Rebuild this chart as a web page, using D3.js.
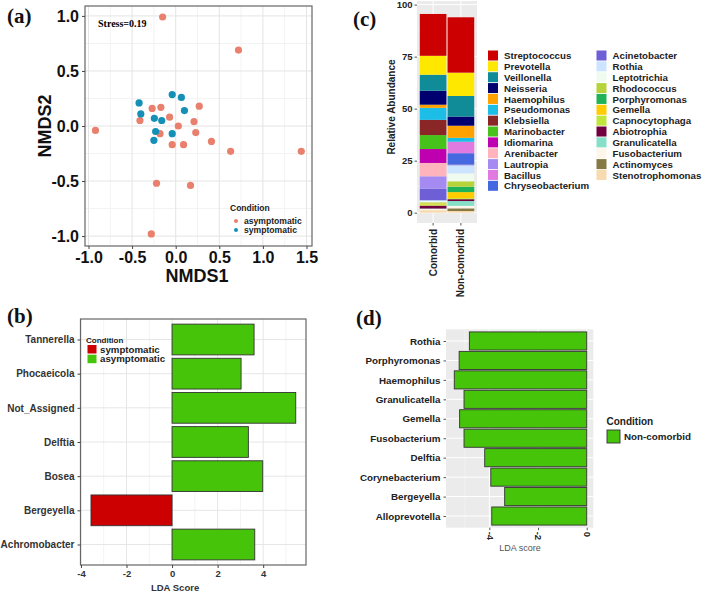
<!DOCTYPE html>
<html>
<head>
<meta charset="utf-8">
<script src="https://cdn.jsdelivr.net/npm/d3@7/dist/d3.min.js"></script>
<style>
  body { margin: 0; background: #fff; }
  svg { display: block; font-family: "Liberation Sans", Arial, sans-serif; }
  .serif { font-family: "Liberation Serif", "Times New Roman", serif; font-weight: bold; }
</style>
</head>
<body>
<svg id="fig" width="706" height="593"></svg>
<script>
// ---- data: panel (a) NMDS ----
const asymX = [-0.15, 0.72, -0.92, -0.41, -0.27, -0.17, -0.07, 0.03, -0.18, -0.04, 0.09, 0.21, 0.23, 0.27, 0.41, 0.63, 1.44, -0.22, 0.17, -0.28]
const asymY = [0.99, 0.69, -0.04, 0.05, 0.16, 0.17, 0.08, 0.0, -0.07, -0.17, -0.17, 0.04, -0.06, 0.18, -0.14, -0.23, -0.23, -0.52, -0.54, -0.98]
const sympX = [-0.42, -0.40, -0.04, 0.065, 0.10, -0.245, -0.16, -0.23, -0.25, -0.04]
const sympY = [0.21, 0.11, 0.285, 0.26, 0.14, 0.07, 0.05, -0.05, -0.13, -0.07]

// ---- data: panel (b) LEfSe ----
const bTaxa = ['Tannerella', 'Phocaeicola', 'Not_Assigned', 'Delftia', 'Bosea', 'Bergeyella', 'Achromobacter']
const bScores = [3.6, 3.03, 5.43, 3.35, 3.98, -3.56, 3.63]
const bGroup = ['asymptomatic', 'asymptomatic', 'asymptomatic', 'asymptomatic', 'asymptomatic', 'symptomatic', 'asymptomatic']

// ---- data: panel (c) relative abundance ----
const genera = ['Streptococcus', 'Prevotella', 'Veillonella', 'Neisseria', 'Haemophilus', 'Pseudomonas', 'Klebsiella',
  'Marinobacter', 'Idiomarina', 'Arenibacter', 'Lautropia', 'Bacillus', 'Chryseobacterium', 'Acinetobacter', 'Rothia',
  'Leptotrichia', 'Rhodococcus', 'Porphyromonas', 'Gemella', 'Capnocytophaga', 'Abiotrophia', 'Granulicatella',
  'Fusobacterium', 'Actinomyces', 'Stenotrophomonas']
const generaColors = ['#cc0000', '#ffe800', '#108c98', '#00006e', '#ffa200', '#1cbde6', '#8b2626',
  '#46c21a', '#bf00b0', '#ffb3bd', '#a58af2', '#e07ae0', '#4568e0', '#6e5fd6', '#cce4ff',
  '#effbee', '#b6d33a', '#1fb257', '#ffcc00', '#c0e63a', '#720040', '#86e0c8',
  '#fff6ea', '#857946', '#f8dab0']
const groupsC = ['Comorbid', 'Non-comorbid']
const comorbidVals = [20.1, 9.1, 7.7, 6.7, 1.5, 5.8, 7.3, 6.7, 6.7, 6.4, 5.9, 0, 0, 5.6, 0.4, 0.6, 0.6, 0, 0.4, 0.6, 1.4, 0.2, 0.6, 0, 1.2]
const noncomorbidVals = [26.6, 11.2, 9.9, 4.4, 5.8, 1.9, 0, 0, 0, 0, 0, 5.5, 5.4, 0.4, 3.9, 3.8, 2.6, 2.6, 2.9, 0.5, 0.9, 2.3, 1.2, 1.3, 0.8]

// ---- data: panel (d) LEfSe ----
const dTaxa = ['Rothia', 'Porphyromonas', 'Haemophilus', 'Granulicatella', 'Gemella', 'Fusobacterium', 'Delftia', 'Corynebacterium', 'Bergeyella', 'Alloprevotella']
const dScores = [-4.82, -5.24, -5.44, -5.04, -5.22, -5.04, -4.19, -3.94, -3.37, -3.9]

const svg = d3.select('#fig')
svg.append('rect').attr('width', 706).attr('height', 593).attr('fill', '#fff')

const tag = (x, y, s) => svg.append('text').attr('class', 'serif').attr('x', x).attr('y', y)
  .attr('font-size', 21).attr('fill', '#111').text(s)

// ================= (a) =================
const drawA = () => {
  const g = svg.append('g')
  const x = d3.scaleLinear().domain([-1.04, 1.563]).range([85, 312])
  const y = d3.scaleLinear().domain([-1.09, 1.09]).range([246, 6])
  const xMaj = [-1, -0.5, 0, 0.5, 1, 1.5]
  const yMaj = [-1, -0.5, 0, 0.5, 1]
  const xMin = [-0.75, -0.25, 0.25, 0.75, 1.25]
  const yMin = [-0.75, -0.25, 0.25, 0.75]
  g.append('rect').attr('x', 85).attr('y', 6).attr('width', 227).attr('height', 240).attr('fill', '#fff')
  g.selectAll('.mnx').data(xMin).enter().append('line')
    .attr('x1', d => x(d)).attr('x2', d => x(d)).attr('y1', 6).attr('y2', 246).attr('stroke', '#f3f3f3')
  g.selectAll('.mny').data(yMin).enter().append('line')
    .attr('y1', d => y(d)).attr('y2', d => y(d)).attr('x1', 85).attr('x2', 312).attr('stroke', '#f3f3f3')
  g.selectAll('.mjx').data(xMaj).enter().append('line')
    .attr('x1', d => x(d)).attr('x2', d => x(d)).attr('y1', 6).attr('y2', 246).attr('stroke', '#e4e4e4')
  g.selectAll('.mjy').data(yMaj).enter().append('line')
    .attr('y1', d => y(d)).attr('y2', d => y(d)).attr('x1', 85).attr('x2', 312).attr('stroke', '#e4e4e4')

  const asym = asymX.map((v, i) => [v, asymY[i]])
  const symp = sympX.map((v, i) => [v, sympY[i]])
  g.selectAll('.pa').data(asym).enter().append('circle')
    .attr('cx', d => x(d[0])).attr('cy', d => y(d[1])).attr('r', 3.6).attr('fill', '#e8806d')
  g.selectAll('.ps').data(symp).enter().append('circle')
    .attr('cx', d => x(d[0])).attr('cy', d => y(d[1])).attr('r', 3.6).attr('fill', '#1490b6')

  g.append('rect').attr('x', 85).attr('y', 6).attr('width', 227).attr('height', 240)
    .attr('fill', 'none').attr('stroke', '#666').attr('stroke-width', 1.2)

  const fmt = d => d.toFixed(1)
  const ax = g.append('g').attr('transform', 'translate(0,246)')
    .call(d3.axisBottom(x).tickValues(xMaj).tickFormat(fmt).tickSize(3).tickPadding(3))
  const ay = g.append('g').attr('transform', 'translate(85,0)')
    .call(d3.axisLeft(y).tickValues(yMaj).tickFormat(fmt).tickSize(3).tickPadding(3))
  for (const a of [ax, ay]) {
    a.select('.domain').remove()
    a.selectAll('line').attr('stroke', '#444')
    a.selectAll('text').attr('font-size', 16).attr('font-weight', 'bold').attr('fill', '#111')
      .attr('font-family', '"Liberation Sans", Arial, sans-serif')
  }
  g.append('text').attr('x', 197).attr('y', 282).attr('text-anchor', 'middle')
    .attr('font-size', 18).attr('font-weight', 'bold').attr('fill', '#111').text('NMDS1')
  g.append('text').attr('transform', 'translate(51,126) rotate(-90)').attr('text-anchor', 'middle')
    .attr('font-size', 18).attr('font-weight', 'bold').attr('fill', '#111').text('NMDS2')
  g.append('text').attr('class', 'serif').attr('x', 98).attr('y', 27).attr('font-size', 10).text('Stress=0.19')

  // legend
  g.append('text').attr('x', 230).attr('y', 211).attr('font-size', 8.5).attr('font-weight', 'bold').attr('fill', '#222').text('Condition')
  const lg = [['asymptomatic', '#e8806d'], ['symptomatic', '#1490b6']]
  lg.forEach((d, i) => {
    g.append('circle').attr('cx', 236).attr('cy', 221 + i * 9).attr('r', 2).attr('fill', d[1])
    g.append('text').attr('x', 244).attr('y', 224 + i * 9).attr('font-size', 8.6).attr('font-weight', 'bold').attr('fill', '#222').text(d[0])
  })
  tag(7, 23, '(a)')
}

// ================= (b) =================
const drawB = () => {
  const g = svg.append('g')
  const x = d3.scaleLinear().domain([-4.02, 5.88]).range([80.5, 306])
  const y = d3.scalePoint().domain(bTaxa).range([319, 565]).padding(0.6)
  const bh = y.step() * 0.9
  const top = 319, bot = 565, left = 80.5, right = 306
  g.append('rect').attr('x', left).attr('y', top).attr('width', right - left).attr('height', bot - top).attr('fill', '#fff')
  g.selectAll('.mn').data([-3, -1, 1, 3, 5]).enter().append('line')
    .attr('x1', d => x(d)).attr('x2', d => x(d)).attr('y1', top).attr('y2', bot).attr('stroke', '#f3f3f3')
  g.selectAll('.mj').data([-4, -2, 0, 2, 4]).enter().append('line')
    .attr('x1', d => x(d)).attr('x2', d => x(d)).attr('y1', top).attr('y2', bot).attr('stroke', '#e6e6e6')
  g.selectAll('.hy').data(bTaxa).enter().append('line')
    .attr('y1', d => y(d)).attr('y2', d => y(d)).attr('x1', left).attr('x2', right).attr('stroke', '#e6e6e6')

  g.selectAll('.bar').data(bTaxa).enter().append('rect')
    .attr('x', (d, i) => x(Math.min(0, bScores[i])))
    .attr('width', (d, i) => Math.abs(x(bScores[i]) - x(0)))
    .attr('y', d => y(d) - bh / 2).attr('height', bh)
    .attr('fill', (d, i) => bGroup[i] === 'symptomatic' ? '#cc0000' : '#46c40a')
    .attr('stroke', '#333').attr('stroke-width', 0.9)

  g.append('rect').attr('x', left).attr('y', top).attr('width', right - left).attr('height', bot - top)
    .attr('fill', 'none').attr('stroke', '#666').attr('stroke-width', 1.2)

  const ax = g.append('g').attr('transform', `translate(0,${bot})`)
    .call(d3.axisBottom(x).tickValues([-4, -2, 0, 2, 4]).tickFormat(d => String(d)).tickSize(3).tickPadding(2))
  const ay = g.append('g').attr('transform', `translate(${left},0)`)
    .call(d3.axisLeft(y).tickSize(3).tickPadding(3))
  for (const a of [ax, ay]) {
    a.select('.domain').remove()
    a.selectAll('line').attr('stroke', '#444')
    a.selectAll('text').attr('fill', '#333').attr('font-family', '"Liberation Sans", Arial, sans-serif')
  }
  ax.selectAll('text').attr('font-size', 9.5).attr('font-weight', 'bold')
  ay.selectAll('text').attr('font-size', 10).attr('font-weight', 'bold')
  g.append('text').attr('x', x(0) + 3).attr('y', 591).attr('text-anchor', 'middle')
    .attr('font-size', 9.5).attr('font-weight', 'bold').attr('fill', '#333').text('LDA Score')

  // legend
  g.append('text').attr('x', 86).attr('y', 343).attr('font-size', 8).attr('font-weight', 'bold').attr('fill', '#222').text('Condition')
  const lg = [['symptomatic', '#cc0000'], ['asymptomatic', '#46c40a']]
  lg.forEach((d, i) => {
    g.append('rect').attr('x', 87.5).attr('y', 345 + i * 9.7).attr('width', 9).attr('height', 8.5).attr('fill', d[1])
    g.append('text').attr('x', 100).attr('y', 352.5 + i * 9.7).attr('font-size', 9.7).attr('font-weight', 'bold').attr('fill', '#222').text(d[0])
  })
  tag(7, 323, '(b)')
}

// ================= (c) =================
const drawC = () => {
  const g = svg.append('g')
  const left = 417, right = 477, top = 1, bot = 223
  const x = d3.scaleBand().domain(groupsC).range([left, right]).paddingInner(0.04).paddingOuter(0.1)
  const y = d3.scaleLinear().domain([0, 100]).range([212.7, 4.6])
  g.append('rect').attr('x', left).attr('y', top).attr('width', right - left).attr('height', bot - top).attr('fill', '#ebebeb')
  g.selectAll('.mn').data([12.5, 37.5, 62.5, 87.5]).enter().append('line')
    .attr('y1', d => y(d)).attr('y2', d => y(d)).attr('x1', left).attr('x2', right).attr('stroke', '#f5f5f5').attr('stroke-width', 0.6)
  g.selectAll('.mj').data([0, 25, 50, 75, 100]).enter().append('line')
    .attr('y1', d => y(d)).attr('y2', d => y(d)).attr('x1', left).attr('x2', right).attr('stroke', '#fff')
  g.selectAll('.vx').data(groupsC).enter().append('line')
    .attr('x1', d => x(d) + x.bandwidth() / 2).attr('x2', d => x(d) + x.bandwidth() / 2)
    .attr('y1', top).attr('y2', bot).attr('stroke', '#fff')

  const table = genera.map((gname, i) => ({ genus: gname, Comorbid: comorbidVals[i], 'Non-comorbid': noncomorbidVals[i] }))
  // ggplot puts the first level on top, so stack from the last one upward
  const reversed = table.slice().reverse()
  groupsC.forEach(grp => {
    let acc = 0
    reversed.forEach(row => {
      const v = row[grp]
      if (v > 0) {
        g.append('rect').attr('x', x(grp)).attr('width', x.bandwidth())
          .attr('y', y(acc + v)).attr('height', y(acc) - y(acc + v))
          .attr('fill', generaColors[genera.indexOf(row.genus)])
      }
      acc += v
    })
  })

  const ay = g.append('g').attr('transform', `translate(${left},0)`)
    .call(d3.axisLeft(y).tickValues([0, 25, 50, 75, 100]).tickSize(2.5).tickPadding(2))
  const ax = g.append('g').attr('transform', `translate(0,${bot})`)
    .call(d3.axisBottom(x).tickSize(2.5).tickPadding(2))
  for (const a of [ax, ay]) {
    a.select('.domain').remove()
    a.selectAll('line').attr('stroke', '#555')
    a.selectAll('text').attr('fill', '#222').attr('font-weight', 'bold').attr('font-size', 10)
      .attr('font-family', '"Liberation Sans", Arial, sans-serif')
  }
  ay.selectAll('text').attr('font-size', 9.5)
  ax.selectAll('text').attr('text-anchor', 'end').attr('dy', '0.35em')
    .attr('transform', 'translate(0,2) rotate(-90)').attr('x', -4).attr('y', 0)
  g.append('text').attr('transform', `translate(395,107) rotate(-90)`).attr('text-anchor', 'middle')
    .attr('font-size', 10).attr('font-weight', 'bold').attr('fill', '#222').text('Relative Abundance')

  // legend: 2 columns of 13 / 12
  genera.forEach((name, i) => {
    const col = i < 13 ? 0 : 1
    const row = col === 0 ? i : i - 13
    const lx = col === 0 ? 488 : 596.5
    const ly = 50.5 + row * 10.86
    g.append('rect').attr('x', lx).attr('y', ly).attr('width', 10).attr('height', 10).attr('fill', generaColors[i])
    g.append('text').attr('x', lx + 16).attr('y', ly + 8.6).attr('font-size', 9.7).attr('font-weight', 'bold')
      .attr('fill', '#222').text(name)
  })
  tag(353, 26, '(c)')
}

// ================= (d) =================
const drawD = () => {
  const g = svg.append('g')
  const left = 446, right = 593.3, top = 329.3, bot = 527.7
  const x = d3.scaleLinear().domain([-5.78, 0.27]).range([left, right])
  const y = d3.scalePoint().domain(dTaxa).range([top, bot]).padding(0.6)
  const bh = y.step() * 0.93
  g.append('rect').attr('x', left).attr('y', top).attr('width', right - left).attr('height', bot - top).attr('fill', '#ebebeb')
  g.selectAll('.mn').data([-5, -3, -1]).enter().append('line')
    .attr('x1', d => x(d)).attr('x2', d => x(d)).attr('y1', top).attr('y2', bot).attr('stroke', '#f6f6f6').attr('stroke-width', 0.6)
  g.selectAll('.mj').data([-4, -2, 0]).enter().append('line')
    .attr('x1', d => x(d)).attr('x2', d => x(d)).attr('y1', top).attr('y2', bot).attr('stroke', '#fff')
  g.selectAll('.hy').data(dTaxa).enter().append('line')
    .attr('y1', d => y(d)).attr('y2', d => y(d)).attr('x1', left).attr('x2', right).attr('stroke', '#fff')

  g.selectAll('.bar').data(dTaxa).enter().append('rect')
    .attr('x', (d, i) => x(dScores[i])).attr('width', (d, i) => x(0) - x(dScores[i]))
    .attr('y', d => y(d) - bh / 2).attr('height', bh)
    .attr('fill', '#46c40a').attr('stroke', '#333').attr('stroke-width', 0.9)

  const ax = g.append('g').attr('transform', `translate(0,${bot})`)
    .call(d3.axisBottom(x).tickValues([-4, -2, 0]).tickFormat(d => String(d)).tickSize(2.5).tickPadding(2))
  const ay = g.append('g').attr('transform', `translate(${left},0)`)
    .call(d3.axisLeft(y).tickSize(2.5).tickPadding(3))
  for (const a of [ax, ay]) {
    a.select('.domain').remove()
    a.selectAll('line').attr('stroke', '#555')
    a.selectAll('text').attr('fill', '#222').attr('font-family', '"Liberation Sans", Arial, sans-serif')
  }
  ax.selectAll('text').attr('font-size', 9.5).attr('font-weight', 'bold').attr('text-anchor', 'start')
    .attr('transform', 'rotate(90)').attr('x', 4).attr('y', 0).attr('dy', '0.35em')
  ay.selectAll('text').attr('font-size', 9.8).attr('font-weight', 'bold')
  g.append('text').attr('x', 520).attr('y', 550.5).attr('text-anchor', 'middle')
    .attr('font-size', 9).attr('fill', '#555').text('LDA score')

  // legend
  g.append('text').attr('x', 606.5).attr('y', 424.5).attr('font-size', 10).attr('font-weight', 'bold').attr('fill', '#222').text('Condition')
  g.append('rect').attr('x', 607).attr('y', 430).attr('width', 13).attr('height', 13)
    .attr('fill', '#46c40a').attr('stroke', '#333').attr('stroke-width', 0.9)
  g.append('text').attr('x', 624).attr('y', 440).attr('font-size', 9.8).attr('font-weight', 'bold').attr('fill', '#222').text('Non-comorbid')
  tag(356, 325, '(d)')
}

drawA()
drawB()
drawC()
drawD()
</script>
</body>
</html>
